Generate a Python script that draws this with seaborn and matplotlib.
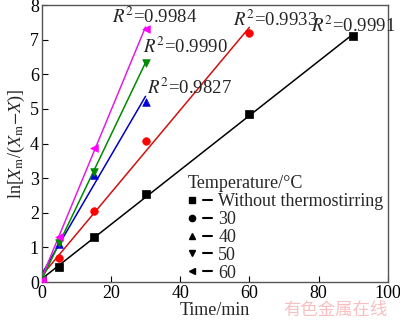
import numpy as np
import pandas as pd
import matplotlib
matplotlib.use("Agg")
import matplotlib.pyplot as plt
import seaborn as sns
from matplotlib.lines import Line2D
from matplotlib.legend_handler import HandlerTuple

# ---- data ----
t_without = [0, 5, 15, 30, 60, 90]
y_without = [0.05, 0.42, 1.29, 2.54, 4.85, 7.11]
t_30 = [0, 5, 15, 30, 60]
y_30 = [0.05, 0.68, 2.06, 4.08, 7.19]
t_40 = [0, 5, 15, 30]
y_40 = [0.05, 1.10, 3.09, 5.21]
t_50 = [0, 5, 15, 30]
y_50 = [0.05, 1.12, 3.19, 6.34]
t_60 = [0, 5, 15, 30]
y_60 = [0.05, 1.31, 3.88, 7.30]
labels = ["Without thermostirring", "30", "40", "50", "60"]
r2_texts = ["0.9991", "0.9933", "0.9827", "0.9990", "0.9984"]

sns.set_style("ticks")
plt.rcParams["font.family"] = ["Liberation Serif", "DejaVu Serif"]
plt.rcParams["mathtext.fontset"] = "stix"

series = [
    (t_without, y_without, "s", "black", "black"),
    (t_30, y_30, "o", "red", "#d01010"),
    (t_40, y_40, "^", "#0000dd", "#0000bb"),
    (t_50, y_50, "v", "#008a00", "#008a00"),
    (t_60, y_60, "<", "#ff00ff", "#e020e0"),
]

fig = plt.figure(figsize=(4.0, 3.22), dpi=100)
ax = fig.add_axes([0.104, 0.1242, 0.866, 0.860])

for (t, y, m, mc, lc), lab in zip(series, labels):
    df = pd.DataFrame({"t": t, "y": y})
    sns.regplot(data=df, x="t", y="y", ax=ax, ci=None, scatter=False,
                truncate=True, line_kws=dict(color=lc, lw=1.1))
    sns.scatterplot(data=df, x="t", y="y", ax=ax, marker=m, color=mc,
                    s=30, edgecolor=mc, linewidth=0.5, zorder=5)

ax.set_xlim(0, 100)
ax.set_ylim(0, 8)
ax.set_xticks(np.arange(0, 101, 20))
ax.set_yticks(np.arange(0, 9, 1))
ax.tick_params(direction="in", length=4, labelsize=13, colors="black", pad=2)
for s in ax.spines.values():
    s.set_color("#555555")
    s.set_linewidth(1.0)
ax.set_xlabel("Time/min", fontsize=13, labelpad=0)
ax.set_ylabel(r"ln[$X_{\rm m}$/($X_{\rm m}$$-$$X$)]", fontsize=13, labelpad=2)

# R^2 annotations
ann = [(77.8, 7.40, r2_texts[0]), (55.3, 7.57, r2_texts[1]),
       (30.4, 5.61, r2_texts[2]), (29.3, 6.79, r2_texts[3]),
       (20.3, 7.65, r2_texts[4])]
for x, y, txt in ann:
    ax.text(x, y, r"$R^2$=" + txt, fontsize=13.5, va="center", ha="left")

# legend
handles = []
for (t, y, m, mc, lc) in series:
    mk = Line2D([], [], marker=m, color="black", ls="none", markersize=4.5)
    ln = Line2D([], [], color="black", lw=1.5)
    handles.append((mk, ln))
leg = ax.legend(handles, labels, title="Temperature/°C", loc="lower right",
                bbox_to_anchor=(1.008, -0.025), frameon=False, fontsize=13,
                title_fontsize=13, handler_map={tuple: HandlerTuple(ndivide=None, pad=0.3)},
                handlelength=1.35, handletextpad=0.35, labelspacing=0.05,
                borderaxespad=0.0, alignment="left")

fig.text(0.97, 0.01, "有色金属在线", fontsize=12.5, color="#f6c0c0",
         ha="right", va="bottom", family=["Noto Sans CJK SC"])

fig.savefig("out.png", dpi=100)
